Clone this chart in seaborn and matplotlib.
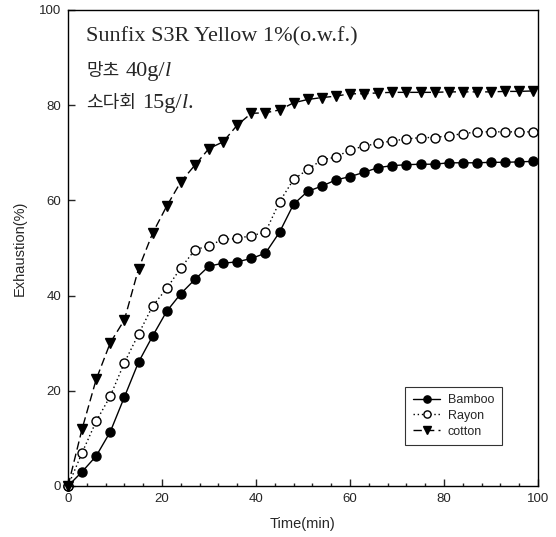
import numpy as np
import pandas as pd
import matplotlib
matplotlib.use('Agg')
import matplotlib.pyplot as plt
from matplotlib.ticker import MultipleLocator
import seaborn as sns

# Time points (min), one reading every 3 minutes
time_min = list(range(0, 100, 3))

# Exhaustion (%)
bamboo = [0, 3.0, 6.3, 11.4, 18.7, 26.0, 31.5, 36.7, 40.4, 43.4,
          46.2, 46.8, 47.1, 47.8, 48.9, 53.3, 59.2, 61.9, 63.0, 64.3,
          65.0, 65.9, 66.9, 67.3, 67.5, 67.6, 67.6, 67.9, 67.9, 67.9,
          68.0, 68.0, 68.1, 68.2]
rayon = [0, 7.0, 13.6, 18.9, 25.9, 31.9, 37.8, 41.5, 45.8, 49.6,
         50.5, 51.8, 52.0, 52.6, 53.3, 59.7, 64.4, 66.5, 68.5, 69.1,
         70.6, 71.4, 72.0, 72.5, 72.9, 73.2, 73.2, 73.6, 74.0, 74.4,
         74.4, 74.4, 74.4, 74.4]
cotton = [0, 12.0, 22.4, 30.1, 34.9, 45.6, 53.1, 58.8, 63.9, 67.4,
          70.9, 72.3, 75.8, 78.3, 78.4, 79.0, 80.5, 81.2, 81.6, 81.9,
          82.4, 82.4, 82.6, 82.7, 82.7, 82.7, 82.7, 82.8, 82.8, 82.8,
          82.8, 82.9, 82.9, 83.0]

series_names = ['Bamboo', 'Rayon', 'cotton']

# condition note: each line is a list of (text, kind) pieces
note_lines = [
    [('Sunfix S3R Yellow 1%(o.w.f.)', 'serif')],
    [('망초', 'kor'), ('40g/', 'serif'), ('l', 'italic')],
    [('소다회', 'kor'), ('15g/', 'serif'), ('l', 'italic'), ('.', 'serif')],
]

df = pd.DataFrame({'Time': time_min * 3,
                   'Exhaustion': bamboo + rayon + cotton,
                   'Fiber': sum([[n] * len(time_min) for n in series_names], [])})

sns.set_style('ticks')
plt.rcParams['font.family'] = ['Liberation Sans', 'DejaVu Sans']

fig = plt.figure(figsize=(5.56, 5.37), dpi=100)
ax = fig.add_axes([68 / 556, 1 - 486 / 537, 470 / 556, 476 / 537])

styles = {
    'Bamboo': dict(marker='o', linestyle='-', markerfacecolor='k', markersize=6.5),
    'Rayon': dict(marker='o', linestyle=(0, (1, 2)), markerfacecolor='white', markersize=6.5),
    'cotton': dict(marker='v', linestyle=(0, (6, 3)), markerfacecolor='k', markersize=7),
}
for name in series_names:
    sub = df[df['Fiber'] == name]
    sns.lineplot(data=sub, x='Time', y='Exhaustion', ax=ax, color='k',
                 linewidth=1.0, markeredgecolor='k',
                 markeredgewidth=1.0, label=name, clip_on=False,
                 **styles[name])

ax.set_xlim(0, 100)
ax.set_ylim(0, 100)
ax.xaxis.set_major_locator(MultipleLocator(20))
ax.xaxis.set_minor_locator(MultipleLocator(4))
ax.yaxis.set_major_locator(MultipleLocator(20))
ax.tick_params(which='both', direction='in', top=False, right=False,
               labelsize=9.5, width=1.0)
ax.tick_params(which='major', length=5, pad=5)
ax.tick_params(which='minor', length=2.5)
for sp in ax.spines.values():
    sp.set_linewidth(1.0)
    sp.set_color('k')

ax.set_xlabel('Time(min)', fontsize=10.5, labelpad=9)
ax.set_ylabel('Exhaustion(%)', fontsize=10.5, labelpad=9)

# draw note lines piece by piece on a shared baseline
props = {
    'serif': dict(family='Liberation Serif', fontsize=16),
    'italic': dict(family='Liberation Serif', fontsize=16, style='italic'),
    'kor': dict(family='Noto Sans CJK KR', fontsize=13),
}
gaps = {'kor': 6}
renderer = fig.canvas.get_renderer()
baselines = [41, 76, 108]
for line, yb in zip(note_lines, baselines):
    xpix = 86
    for text, kind in line:
        t = fig.text(xpix / 556, 1 - yb / 537, text, va='baseline', ha='left',
                     **props[kind])
        bb = t.get_window_extent(renderer=renderer)
        xpix = bb.x1 + gaps.get(kind, 0)

leg = ax.legend(loc='lower right', bbox_to_anchor=(0.923, 0.086),
                borderaxespad=0, fontsize=9, frameon=True, fancybox=False,
                edgecolor='k', handlelength=2.2, handletextpad=0.6,
                borderpad=0.6, labelspacing=0.3, markerscale=0.8)
leg.get_frame().set_linewidth(0.8)

fig.savefig('out.png', dpi=100)
